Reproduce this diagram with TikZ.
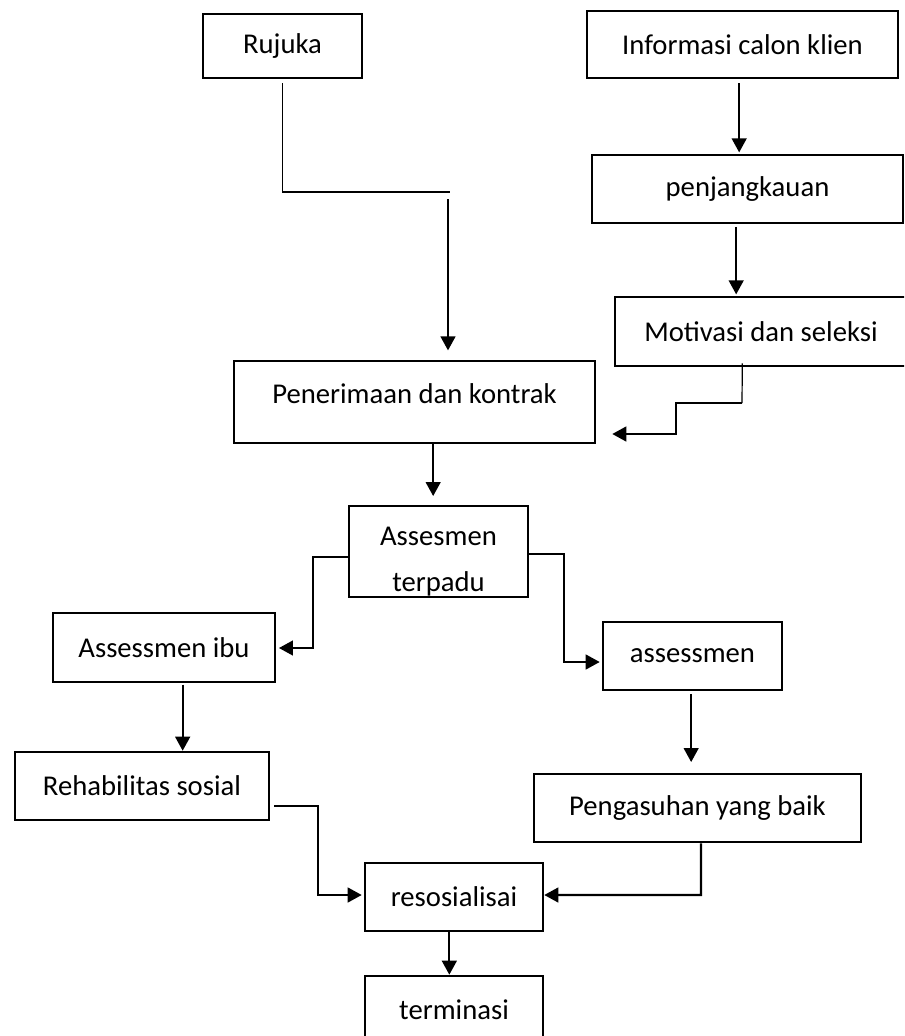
\documentclass[tikz,border=0pt]{standalone}
\usepackage{fontspec}
\setmainfont{Carlito}
\usetikzlibrary{arrows.meta}

\begin{document}
\begin{tikzpicture}[
    x=0.75pt, y=-0.75pt,
    node font={\fontsize{21.5}{30}\selectfont},
    box/.style 2 args={
        rectangle,
        draw=black,
        line width=1.9pt,
        inner sep=0pt,
        minimum width=#1*0.75pt,
        minimum height=#2*0.75pt},
    arrow/.style={
        line width=1.7pt,
        -{Triangle[length=10.5pt,width=11pt]}},
    thinline/.style={line width=0.9pt}]

    \useasboundingbox (0,0) rectangle (904,1036);
    \clip (0,0) rectangle (904,1036);

    % left column
    \node[box={159}{64}] (rujuka) at (282.5,46) {Rujuka};

    % right column
    \node[box={311}{67}] (info) at (742.5,44.5) {Informasi calon klien};
    \node[box={311}{68}] (jangkau) at (747.5,189) {penjangkauan};
    \node[box={292}{69}] (motivasi) at (761,331.5) {Motivasi dan seleksi};

    % middle
    \node[box={361}{82}, text height=15pt, text depth=13pt] (terima) at (414.5,402) {Penerimaan dan kontrak};
    \node[
        box={179}{91},
        path picture={
            \node[align=center, inner sep=0pt, font={\fontsize{21.5}{34}\selectfont}]
                (terpadutext) at ([yshift=-7.5pt]path picture bounding box.center)
                {Assesmen\\terpadu};
        }]
        (terpadu) at (438.5,551.5) {};

    % branches
    \node[box={222}{69}] (ibu) at (164,647.5) {Assessmen ibu};
    \node[box={254}{68}] (rehab) at (142,786) {Rehabilitas sosial};
    \node[box={179}{68}] (assess) at (692.5,656) {assessmen};
    \node[box={327}{68}] (asuh) at (697.5,808) {Pengasuhan yang baik};

    % end
    \node[box={178}{68}] (resos) at (454,897) {resosialisai};
    \node[box={178}{68}] (termin) at (454,1010) {terminasi};

    % bend points
    \coordinate (r1) at (450,192);
    \coordinate (r2) at (448,199);
    \coordinate (m2) at (742,403);
    \coordinate (m3) at (676,434);
    \coordinate (g1) at (313,648);
    \coordinate (h1) at (564,662);
    \coordinate (k1) at (318,895);
    \coordinate (l1) at (701,895);

    % connectors
    \draw[thinline] ([yshift=-3pt]rujuka.south) |- (r1);
    \draw[arrow, shorten >=7pt] (r2) -- (r2 |- terima.north);

    \draw[arrow, shorten <=3pt, shorten >=1pt]
        ([xshift=-2.5pt]info.south) -- ([xshift=-2.5pt]info.south |- jangkau.north);
    \draw[arrow, shorten <=2pt, shorten >=1pt]
        ([xshift=-8.5pt]jangkau.south) -- ([xshift=-8.5pt]jangkau.south |- motivasi.north);

    \draw[thinline] ([xshift=-14pt,yshift=3pt]motivasi.south) -- (m2);
    \draw[arrow, shorten >=12pt] (m2) -| (m3) -- (m3 -| terima.east);

    \draw[arrow, shorten >=6.5pt]
        ([xshift=14pt]terima.south) -- ([xshift=14pt]terima.south |- terpadu.north);

    \draw[arrow, shorten >=2pt] ([yshift=-4pt]terpadu.west) -| (g1) -- (g1 -| ibu.east);
    \draw[arrow, shorten >=1.5pt] ([yshift=-2pt]terpadu.east) -| (h1) -- (h1 -| assess.west);

    \draw[arrow, shorten <=1pt]
        ([xshift=14pt]ibu.south) -- ([xshift=14pt]ibu.south |- rehab.north);
    \draw[arrow, shorten <=2pt, shorten >=8pt]
        ([xshift=-1pt]assess.south) -- ([xshift=-1pt]assess.south |- asuh.north);

    \draw[arrow, shorten <=3pt, shorten >=1.5pt] ([yshift=-15pt]rehab.east) -| (k1) -- (k1 -| resos.west);
    \draw[arrow] ([xshift=2.6pt]asuh.south) -- (l1) -- (l1 -| resos.east);

    \draw[arrow]
        ([xshift=-3.5pt]resos.south) -- ([xshift=-3.5pt]resos.south |- termin.north);
\end{tikzpicture}
\end{document}
